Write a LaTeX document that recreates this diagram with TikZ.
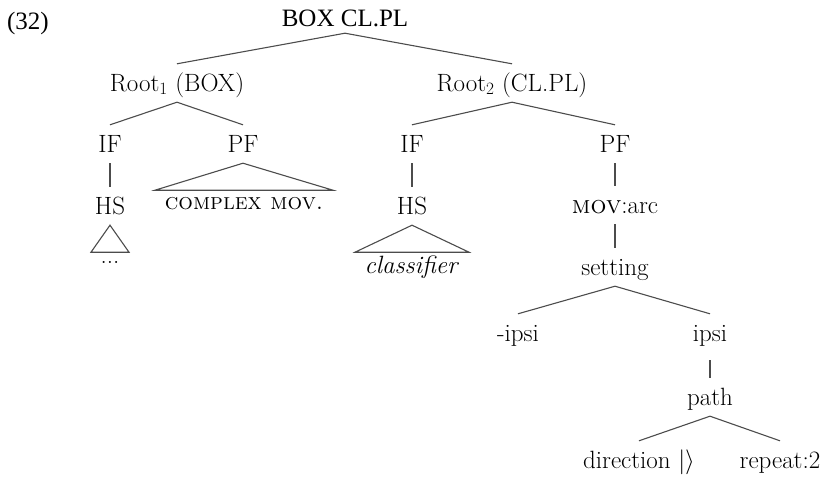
\documentclass[tikz,border=0pt]{standalone}
\usepackage{fontspec}
\newfontfamily\timesf{Liberation Serif}
\begin{document}
\begin{tikzpicture}[x=1pt,y=-1pt,
  tn/.style={anchor=base, text height=18pt, text depth=2pt, inner xsep=0pt,
    inner ysep=9pt, font=\fontsize{25}{30}\selectfont},
  tt/.style={anchor=base, text height=17pt, text depth=2pt, inner xsep=0pt,
    inner ysep=5pt, font=\timesf\fontsize{25}{30}\selectfont},
  br/.style={line width=1.1pt, draw=black!70}]
\useasboundingbox (0,0) rectangle (827,479);

% example number and root of the tree
\node[tt] (ex) at (28,29) {(32)};
\node[tt] (top) at (345,26) {BOX CL.PL};

% first root
\node[tn] (r1) at (177,91) {Root$_1$ (BOX)};
\node[tn] (if1) at (110,152) {IF};
\node[tn] (pf1) at (243,152) {PF};
\node[tn] (hs1) at (110,214) {HS};
\node[tn] (dots) at (110,263) {{.}{.}{.}};
\node[tn, font=\fontsize{23}{28}\selectfont] (cm) at (244,209) {\textsc{complex mov.}};

% second root
\node[tn] (r2) at (512,91) {Root$_2$ (CL.PL)};
\node[tn] (if2) at (412,152) {IF};
\node[tn] (pf2) at (615,152) {PF};
\node[tn] (hs2) at (412,214) {HS};
\node[tn] (cls) at (412,273) {\textit{classifier}};
\node[tn] (mov) at (615,213) {\textsc{mov}:arc};
\node[tn] (set) at (615,275) {setting};
\node[tn] (nip) at (518,341) {-ipsi};
\node[tn] (ip) at (710,341) {ipsi};
\node[tn] (path) at (710,405) {path};
\node[tn] (dir) at (639,468) {direction $|\rangle$};
\node[tn] (rep) at (780,468) {repeat:2};

% branches
\draw[br] (top.south) -- (r1.north);
\draw[br] (top.south) -- (r2.north);
\draw[br] (r1.south) -- (if1.north);
\draw[br] (r1.south) -- (pf1.north);
\draw[br] (if1.south) -- (hs1.north);
\draw[br] (r2.south) -- (if2.north);
\draw[br] (r2.south) -- (pf2.north);
\draw[br] (if2.south) -- (hs2.north);
\draw[br] (pf2.south) -- (mov.north);
\draw[br] (mov.south) -- (set.north);
\draw[br] (set.south) -- (nip.north);
\draw[br] (set.south) -- (ip.north);
\draw[br] ([yshift=-8pt]ip.south) -- (path.north);
\draw[br] (path.south) -- (dir.north);
\draw[br] (path.south) -- (rep.north);

% collapsed subtrees
\draw[br] (hs1.south) -- ++(-19,27) -- ++(38,0) -- cycle;
\draw[br] (pf1.south) -- ++(-88,27) -- ++(178,0) -- cycle;
\draw[br] (hs2.south) -- ++(-57,27) -- ++(114,0) -- cycle;
\end{tikzpicture}
\end{document}
